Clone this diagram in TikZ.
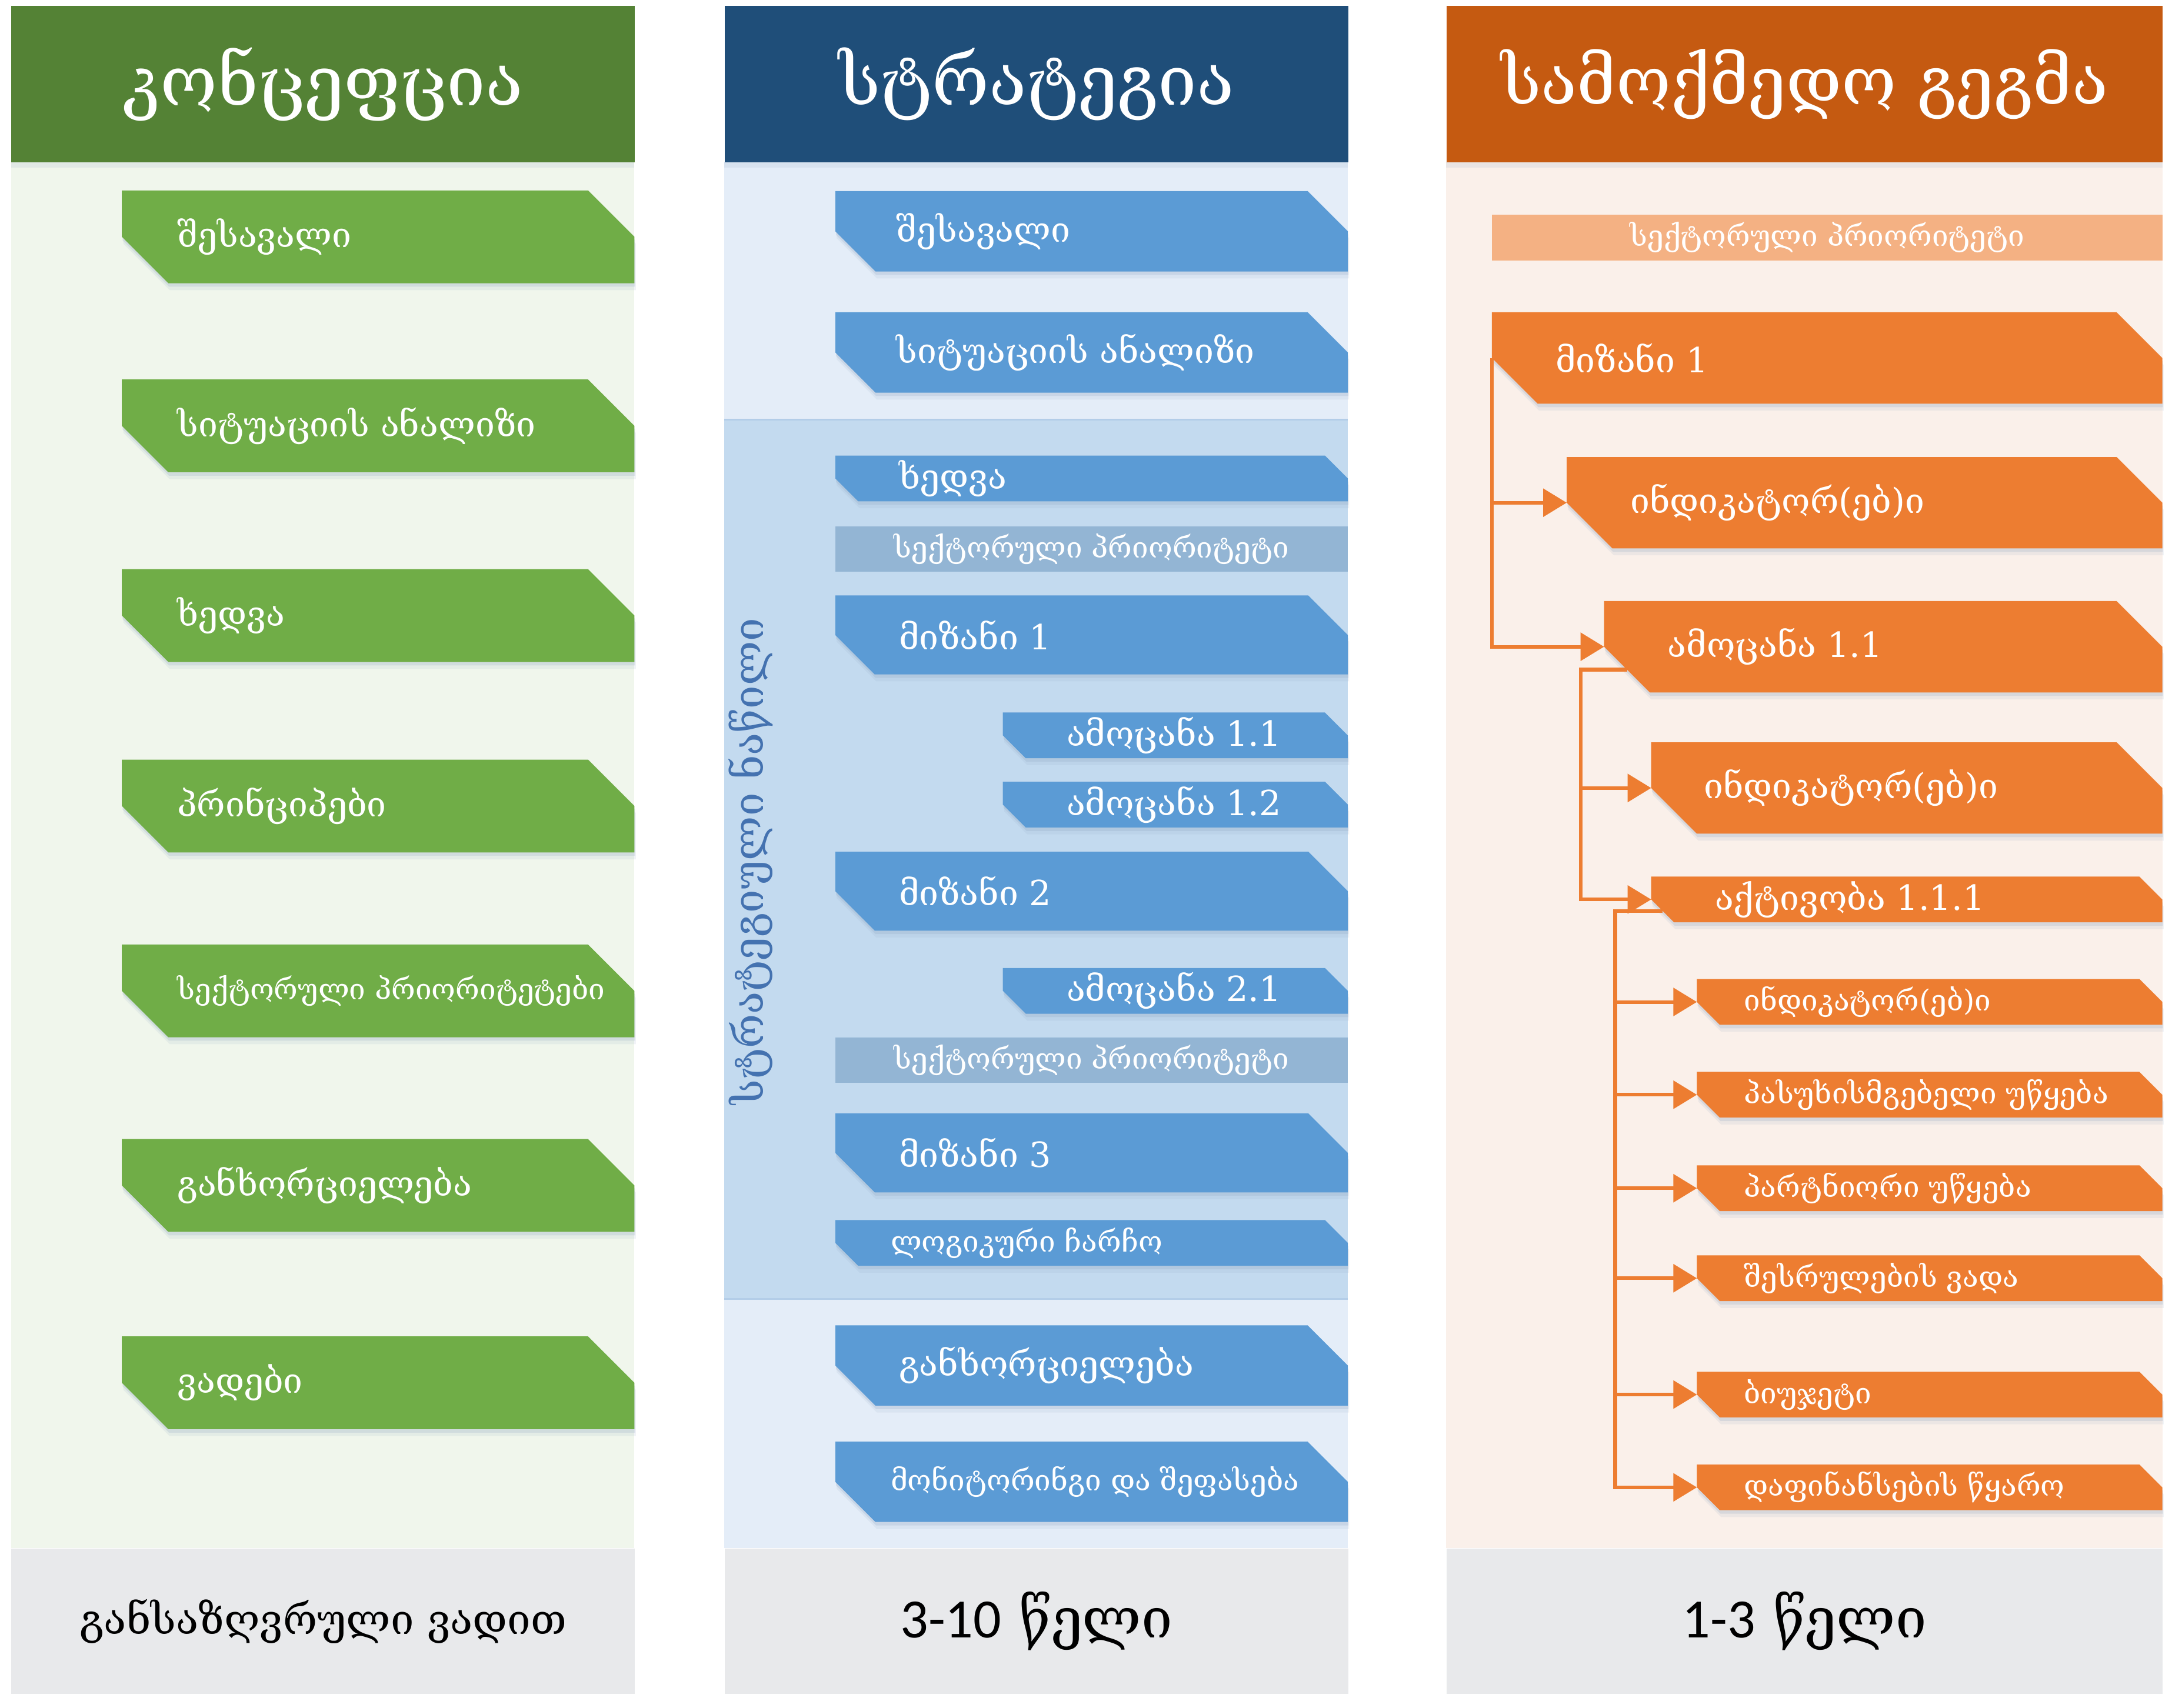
\documentclass[tikz,border=0pt]{standalone}
\usepackage{fontspec}
\setmainfont{DejaVu Serif}
\newfontfamily\digitfont{Carlito}
\usetikzlibrary{arrows.meta,calc}

\definecolor{conceptDark}{HTML}{548235}
\definecolor{conceptBox}{HTML}{70AD47}
\definecolor{conceptBody}{HTML}{F0F6EC}
\definecolor{strategyDark}{HTML}{1F4E79}
\definecolor{strategyBox}{HTML}{5B9BD5}
\definecolor{strategyBody}{HTML}{E4EDF8}
\definecolor{strategyPart}{HTML}{C3DAEF}
\definecolor{strategyEdge}{HTML}{B3CDE8}
\definecolor{strategyPrior}{HTML}{93B5D4}
\definecolor{strategyText}{HTML}{4472B0}
\definecolor{planDark}{HTML}{C55A11}
\definecolor{planBox}{HTML}{ED7D31}
\definecolor{planBody}{HTML}{FAF0EA}
\definecolor{planPrior}{HTML}{F4B183}
\definecolor{footGray}{HTML}{E8E9EB}
\definecolor{shadowTone}{HTML}{8DA4BF}

\tikzset{
  head/.style={anchor=north west, minimum width=#1, minimum height=113pt, inner sep=0pt,
    text=white, font=\fontsize{50}{60}\selectfont},
  foot/.style={anchor=north west, minimum width=#1, minimum height=105pt, inner sep=0pt,
    fill=footGray, font=\fontsize{40}{48}\selectfont},
  bigtext/.style={font=\fontsize{25}{29}\selectfont},
  smalltext/.style={font=\fontsize{21}{25}\selectfont},
  boxlabel/.style={text=white, inner ysep=0pt, outer sep=0pt},
  priorbar/.style={minimum height=33pt, inner sep=0pt, outer sep=0pt, text=white, smalltext},
  boxshadow/.style={fill=shadowTone, opacity=#1},
  link/.style={draw=planBox, line width=2.6pt, -{Triangle[length=17pt,width=20pt]}}
}

% ribbon outline: left, top, right, height
\newcommand{\ribbonpath}[4]{(#1,#2) -- ({#3-#4/2},#2) -- (#3,{#2+#4/2}) -- (#3,{#2+#4})
  -- ({#1+#4/2},{#2+#4}) -- (#1,{#2+#4/2}) -- cycle}
% name, colour, left, top, right, height, inset, text style, text
\newcommand{\ribbon}[9]{%
  \fill[boxshadow=0.12, shift={(1,5)}] \ribbonpath{#3}{#4}{#5}{#6};
  \fill[boxshadow=0.22, shift={(0.5,2.5)}] \ribbonpath{#3}{#4}{#5}{#6};
  \fill[#2] \ribbonpath{#3}{#4}{#5}{#6};
  \pgfmathsetmacro\ribbonwd{#5-#3-2*#7}
  \node[boxlabel, #8, inner xsep=#7pt, minimum height=#6pt]
    (#1) at ({(#3+#5)/2},{#4+#6/2}) {\makebox[\ribbonwd pt][l]{#9}};}

\begin{document}
\begin{tikzpicture}[x=1pt,y=-1pt]
\fill[white] (0,0) rectangle (1568,1233.3);
\useasboundingbox (0,0) rectangle (1568,1233.3);

% column backgrounds
\fill[conceptBody] (8,117) rectangle (458,1118);
\fill[strategyBody] (523,117) rectangle (973,1118);
\fill[strategyPart] (523,303) rectangle (973,938);
\draw[strategyEdge, line width=1pt] (523,303) -- (973,303) (523,938) -- (973,938);
\fill[planBody] (1044,117) rectangle (1561,1118);
\foreach \x/\w in {8/450,523/450,1044/517}
  \fill[boxshadow=0.15] (\x,117) rectangle ++(\w,4);

% headers and footers
\node[head=450pt, fill=conceptDark] (conceptHead) at (8,4) {კონცეფცია};
\node[head=450pt, fill=strategyDark] (strategyHead) at (523,4) {სტრატეგია};
\node[head=517pt, fill=planDark, font=\fontsize{48}{58}\selectfont] (planHead) at (1044,4) {სამოქმედო გეგმა};
\node[foot=450pt] (conceptFoot) at (8,1118) {\fontsize{30}{36}\selectfont განსაზღვრული ვადით};
\node[foot=450pt] (strategyFoot) at (523,1118) {{\digitfont 3-10} წელი};
\node[foot=517pt] (planFoot) at (1044,1118) {{\digitfont 1-3} წელი};

% concept
\foreach \ty/\nm/\txt/\sz in {137.5/gIntro/შესავალი/bigtext, 274/gAnalysis/სიტუაციის ანალიზი/bigtext,
    411/gVision/ხედვა/bigtext, 548.5/gPrinciples/პრინციპები/bigtext,
    682/gPriorities/სექტორული პრიორიტეტები/smalltext, 822.5/gImpl/განხორციელება/bigtext,
    965/gTerms/ვადები/bigtext}
  {\ribbon{\nm}{conceptBox}{88}{\ty}{458}{67}{40}{\sz}{\txt}}

% strategy
\ribbon{bIntro}{strategyBox}{603}{138}{973}{58}{44}{bigtext}{შესავალი}
\ribbon{bAnalysis}{strategyBox}{603}{225.5}{973}{58}{44}{bigtext}{სიტუაციის ანალიზი}
\ribbon{bVision}{strategyBox}{603}{329}{973}{33}{46}{bigtext}{ხედვა}
\node[priorbar, fill=strategyPrior, minimum width=370pt] (bPriorA) at (788,396.5) {სექტორული პრიორიტეტი};
\ribbon{bGoalA}{strategyBox}{603}{430}{973}{57}{46}{bigtext}{მიზანი 1}
\ribbon{bTaskAA}{strategyBox}{724}{514.5}{973}{33}{46}{bigtext}{ამოცანა 1.1}
\ribbon{bTaskAB}{strategyBox}{724}{564.5}{973}{33}{46}{bigtext}{ამოცანა 1.2}
\ribbon{bGoalB}{strategyBox}{603}{615}{973}{57}{46}{bigtext}{მიზანი 2}
\ribbon{bTaskBA}{strategyBox}{724}{699}{973}{33}{46}{bigtext}{ამოცანა 2.1}
\node[priorbar, fill=strategyPrior, minimum width=370pt] (bPriorB) at (788,765.5) {სექტორული პრიორიტეტი};
\ribbon{bGoalC}{strategyBox}{603}{804}{973}{57}{46}{bigtext}{მიზანი 3}
\ribbon{bFrame}{strategyBox}{603}{881}{973}{33}{40}{smalltext}{ლოგიკური ჩარჩო}
\ribbon{bImpl}{strategyBox}{603}{957}{973}{58}{46}{bigtext}{განხორციელება}
\ribbon{bMonitor}{strategyBox}{603}{1041}{973}{58}{40}{smalltext}{მონიტორინგი და შეფასება}
\node[rotate=90, text=strategyText, font=\fontsize{30}{36}\selectfont] (bPartLabel) at (542,622) {სტრატეგიული ნაწილი};

% action plan
\node[priorbar, fill=planPrior, minimum width=484pt] (oPrior) at (1319,171.5) {სექტორული პრიორიტეტი};
\ribbon{oGoal}{planBox}{1077}{225.5}{1561}{66}{46}{bigtext}{მიზანი 1}
\ribbon{oIndA}{planBox}{1131}{330}{1561}{66}{46}{bigtext}{ინდიკატორ(ებ)ი}
\ribbon{oTask}{planBox}{1158}{434}{1561}{66}{46}{bigtext}{ამოცანა 1.1}
\ribbon{oIndB}{planBox}{1192}{536}{1561}{66}{38}{bigtext}{ინდიკატორ(ებ)ი}
\ribbon{oActivity}{planBox}{1192}{633}{1561}{33}{46}{bigtext}{აქტივობა 1.1.1}
\foreach \ty/\nm/\txt in {707/oIndC/ინდიკატორ(ებ)ი, 774/oResp/პასუხისმგებელი უწყება,
    841.5/oPartner/პარტნიორი უწყება, 906.5/oDeadline/შესრულების ვადა,
    990.5/oBudget/ბიუჯეტი, 1057.5/oFund/დაფინანსების წყარო}
  {\ribbon{\nm}{planBox}{1225}{\ty}{1561}{33}{34}{smalltext}{\txt}}

\coordinate (trunkB) at (1141,500);
\coordinate (trunkC) at (1166,700);
\coordinate (oTaskOut) at ([shift={(16.5,16.5)}]oTask.west);
\coordinate (oActOut) at ([shift={(8.25,8.25)}]oActivity.west);

\draw[link] (oGoal.west) |- (oTask.west);
\draw[link] (oGoal.west |- oIndA.west) -- (oIndA.west);
\draw[link] (oTaskOut) -- (oTaskOut -| trunkB) |- (oActivity.west);
\draw[link] (trunkB |- oIndB.west) -- (oIndB.west);
\draw[link] (oActOut) -- (oActOut -| trunkC) |- (oFund.west);
\foreach \nm in {oIndC,oResp,oPartner,oDeadline,oBudget}
  \draw[link] (trunkC |- \nm.west) -- (\nm.west);
\end{tikzpicture}
\end{document}
